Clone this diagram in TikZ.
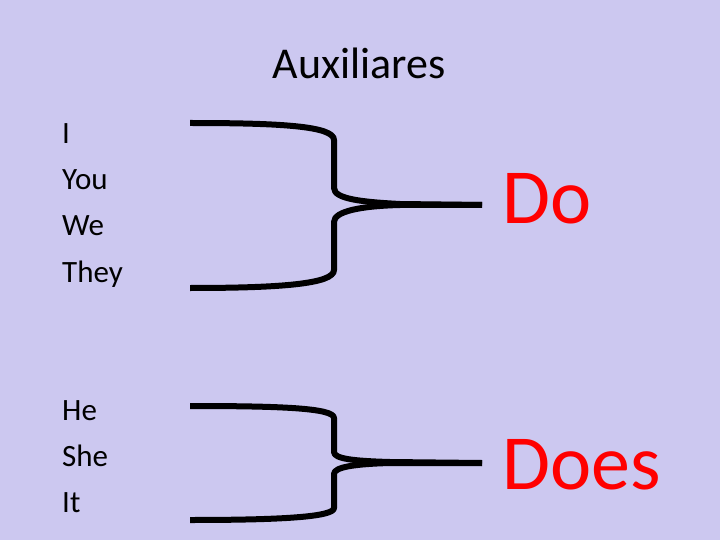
\documentclass[tikz,border=0pt]{standalone}
\usepackage{fontspec}
\setmainfont{Carlito}
\definecolor{slidebg}{RGB}{204,200,240}
\begin{document}
\begin{tikzpicture}[x=1pt,y=-1pt,
    pron/.style={anchor=base west,inner sep=0pt,font=\fontsize{31}{31}\selectfont},
    aux/.style={anchor=base west,inner sep=0pt,text=red,font=\fontsize{78}{78}\selectfont},
    brace/.style={line width=6pt,line join=round}]
  \fill[slidebg] (0,0) rectangle (720,540);
  \useasboundingbox (0,0) rectangle (720,540);

  \node[anchor=base,inner sep=0pt,font=\fontsize{44}{44}\selectfont] (title) at (359,79) {Auxiliares};

  % first group
  \node[pron] (i) at (62,144) {I};
  \node[pron] (you) at (62,190) {You};
  \node[pron] (we) at (62,236) {We};
  \node[pron] (they) at (62,282) {They};
  \node[aux] (do) at (502,223) {Do};

  % second group
  \node[pron] (he) at (62,420) {He};
  \node[pron] (she) at (62,466) {She};
  \node[pron] (it) at (62,512) {It};
  \node[aux] (does) at (502,489) {Does};

  % brackets
  \coordinate (top1) at (190,123);
  \coordinate (bot1) at (190,288);
  \coordinate (tip1) at (482,205);
  \coordinate (top2) at (190,406);
  \coordinate (bot2) at (190,520);
  \coordinate (tip2) at (482,463);

  \draw[brace] (top1) .. controls (280,123) and (334,126) .. (334,140) -- (334,188)
    .. controls (334,199) and (362,202) .. (400,204) -- (tip1);
  \draw[brace] (bot1) .. controls (280,288) and (334,284) .. (334,270) -- (334,222)
    .. controls (334,211) and (362,206) .. (400,205) -- (tip1);

  \draw[brace] (top2) .. controls (280,406) and (334,408) .. (334,418) -- (334,452)
    .. controls (334,459) and (355,461) .. (390,462) -- (tip2);
  \draw[brace] (bot2) .. controls (280,520) and (334,517) .. (334,508) -- (334,474)
    .. controls (334,467) and (355,464) .. (390,463) -- (tip2);
\end{tikzpicture}
\end{document}
